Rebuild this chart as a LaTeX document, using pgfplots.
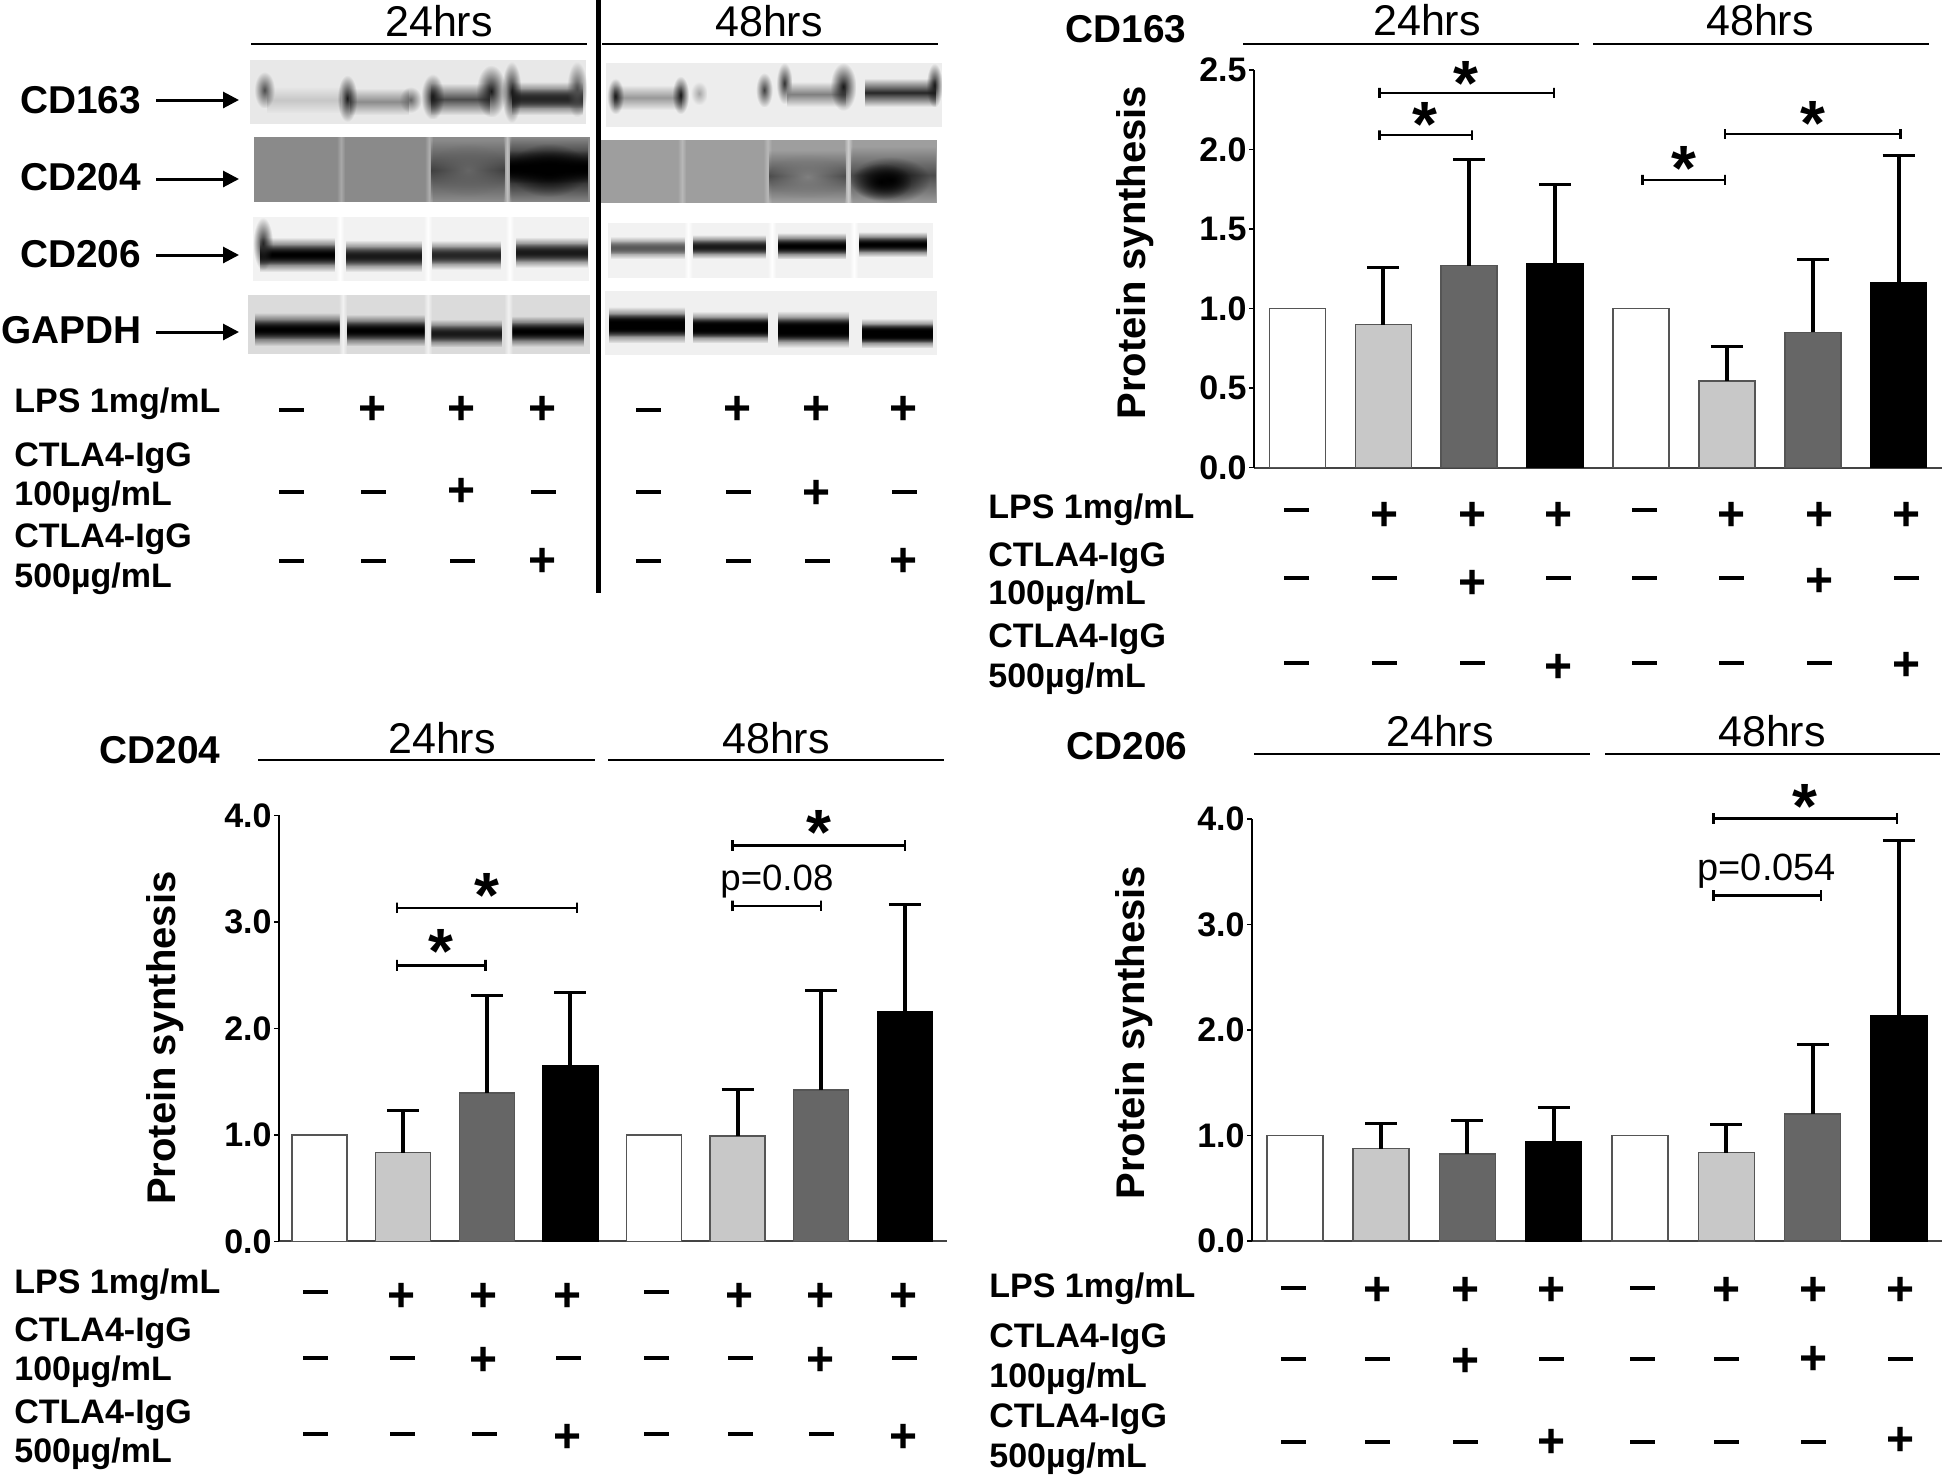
\documentclass[border=0pt]{standalone}
\usepackage{fontspec}
\setmainfont{Liberation Sans}
\usepackage{pgfplots}
\pgfplotsset{compat=1.18}
\usetikzlibrary{fadings,arrows.meta}
\tikzfading[name=vf, top color=transparent!100, bottom color=transparent!100, middle color=transparent!0]
\tikzfading[name=hf, left color=transparent!100, right color=transparent!100, middle color=transparent!0]
\tikzfading[name=rf, inner color=transparent!0, outer color=transparent!100]
\newcommand{\fs}[1]{\fontsize{#1}{#1}\selectfont}
\definecolor{gA}{HTML}{C8C8C8}
\definecolor{gB}{HTML}{666666}
\definecolor{ed}{HTML}{555555}
% blot helpers (coordinates in the scope below)
\newcommand{\vb}[5]{\fill[#5,path fading=vf] (#1,#3) rectangle (#2,#4);}
\newcommand{\rb}[5]{\fill[#5,path fading=rf] (#1,#3) rectangle (#2,#4);}
\newcommand{\bd}[5]{\pgfmathsetmacro\ya{#3-#4}\pgfmathsetmacro\yb{#3+#4}\pgfmathsetmacro\yc{#3-0.6*#4}\pgfmathsetmacro\yd{#3+0.6*#4}%
  \vb{#1}{#2}{\ya}{\yb}{#5}\vb{#1}{#2}{\yc}{\yd}{#5}}
\newcommand{\sep}[4]{\fill[#4,path fading=hf] (#1-7,#2) rectangle (#1+7,#3);}
% table helpers (px coordinates)
\newcommand{\pl}[2]{\node[inner sep=0,anchor=center] at (#1,#2) {\fs{24}\bfseries +};}
\newcommand{\mi}[2]{\fill[black] (#1-12.5,#2-2.4) rectangle (#1+12.5,#2+2.4);}
\newcommand{\lab}[3]{\node[inner sep=0,anchor=base west] at (#1,#2) {\fs{17}\bfseries #3};}
\newcommand{\hr}[3]{\draw[line width=1.25pt,black] (#1,#3) -- (#2,#3);}
\newcommand{\hrs}[3]{\node[inner sep=0,anchor=base] at (#1,#2) {\fs{21.5}#3};}
\newcommand{\bigb}[3]{\node[inner sep=0,anchor=base] at (#1,#2) {\fs{19.4}\bfseries #3};}
% axis helpers
\newcommand{\bracket}[3]{\addplot[mark=none,line width=1.25pt,black,forget plot] coordinates {(#1,#3-\capd) (#1,#3+\capd) (#1,#3) (#2,#3) (#2,#3+\capd) (#2,#3-\capd)};}
\newcommand{\stars}[2]{\node[inner sep=0,anchor=base,yshift=-15.6pt] at (axis cs:#1,#2) {\fs{32}\bfseries *};}
\pgfplotsset{
  panel/.style={
    scale only axis, clip=false,
    ymin=0,
    axis x line*=bottom, axis y line*=left,
    xtick=\empty,
    axis line style={-},
    x axis line style={line width=1pt,color=ed!80!black},
    y axis line style={line width=0.75pt,black},
    tick style={black,line width=0.75pt},
    major tick length=2.5pt,
    tick align=outside,
    ytick pos=left,
    yticklabel style={font=\fs{17}\bfseries, /pgf/number format/assume math mode=true, /pgf/number format/fixed, /pgf/number format/fixed zerofill, /pgf/number format/precision=1, inner sep=1pt},
    ylabel={Protein synthesis},
  },
  barw/.style={ybar, bar shift=0pt, bar width=#1},
  ebars/.style={error bars/.cd, y dir=plus, y explicit,
     error bar style={line width=2pt,black},
     error mark options={rotate=90,line width=1.5pt,mark size=8pt,black}},
}
\begin{document}
\begin{tikzpicture}
\path[use as bounding box] (0,0) rectangle (972pt,-739pt);
% ---------- blots ----------
\begin{scope}[x=0.31pt,y=-0.16667pt]
% CD163 24
\fill[black!9] (403,180) rectangle (945,372);
\vb{430}{550}{260}{340}{black!22}
\vb{565}{660}{265}{345}{black!45}
\vb{695}{790}{250}{345}{black!70}
\bd{825}{940}{295}{50}{black!85}
\rb{410}{443}{215}{325}{black!70}
\rb{544}{576}{225}{365}{black!90}
\rb{644}{680}{260}{338}{black!60}
\rb{679}{716}{222}{358}{black!90}
\rb{768}{816}{195}{352}{black!90}
\rb{809}{841}{185}{368}{black!90}
\rb{914}{947}{185}{352}{black!70}
% CD163 48
\fill[black!7] (978,188) rectangle (1520,380);
\vb{990}{1100}{255}{330}{black!40}
\rb{979}{1006}{235}{342}{black!90}
\rb{1084}{1111}{228}{342}{black!90}
\rb{1114}{1141}{245}{315}{black!35}
\rb{1219}{1246}{218}{322}{black!75}
\rb{1252}{1278}{188}{312}{black!80}
\vb{1270}{1365}{245}{320}{black!50}
\rb{1339}{1381}{188}{332}{black!90}
\vb{1395}{1510}{235}{320}{black!85}
\rb{1494}{1520}{190}{322}{black!90}
% CD204 24
\fill[black!46] (409,410) rectangle (951,606);
\sep{550}{410}{606}{black!34}\sep{692}{410}{606}{black!32}\sep{818}{410}{606}{black!25}
\vb{695}{815}{420}{600}{black!75}
\rb{695}{815}{430}{590}{black!60}
\vb{822}{948}{411}{606}{black}
\rb{822}{948}{430}{590}{black}
\vb{822}{948}{450}{550}{black}
% CD204 48
\fill[black!38] (970,419) rectangle (1511,610);
\sep{1100}{419}{610}{black!28}\sep{1238}{419}{610}{black!28}\sep{1368}{419}{610}{black!20}
\vb{1240}{1365}{450}{605}{black!70}
\rb{1240}{1365}{465}{595}{black!50}
\vb{1372}{1510}{440}{610}{black!70}
\rb{1372}{1500}{470}{610}{black}
\rb{1372}{1470}{490}{600}{black}
% CD206 24
\fill[black!5] (408,652) rectangle (950,842);
\bd{420}{540}{764}{52}{black}
\bd{558}{680}{768}{48}{black!90}
\bd{697}{808}{765}{44}{black!85}
\bd{832}{948}{757}{46}{black!90}
\rb{408}{440}{652}{810}{black!85}
\sep{548}{652}{842}{white}\sep{690}{652}{842}{white}\sep{822}{652}{842}{white}
% CD206 48
\fill[black!5] (980,668) rectangle (1505,833);
\bd{985}{1105}{743}{34}{black!65}
\bd{1118}{1235}{740}{36}{black!90}
\bd{1255}{1365}{738}{40}{black}
\bd{1385}{1495}{733}{38}{black}
\sep{1110}{668}{833}{white}\sep{1245}{668}{833}{white}\sep{1377}{668}{833}{white}
% GAPDH 24
\fill[black!14] (400,886) rectangle (952,1063);
\bd{412}{548}{988}{50}{black}
\bd{560}{685}{991}{48}{black}
\bd{695}{810}{1000}{42}{black!90}
\bd{825}{942}{994}{46}{black}
\sep{553}{886}{1063}{black!5}\sep{690}{886}{1063}{black!5}\sep{820}{886}{1063}{black!5}
% GAPDH 48
\fill[black!6] (975,873) rectangle (1511,1065);
\bd{982}{1105}{975}{55}{black}\bd{982}{1105}{975}{36}{black}
\bd{1118}{1238}{982}{48}{black}\bd{1118}{1238}{982}{32}{black}
\bd{1255}{1370}{988}{55}{black}\bd{1255}{1370}{988}{38}{black}
\bd{1390}{1505}{1000}{45}{black}\bd{1390}{1505}{1000}{30}{black}
\end{scope}
% ---------- text, rules, tables ----------
\begin{scope}[x=0.5pt,y=-0.5pt]
\fill[black] (596,0) rectangle (600.5,593);
% top left
\hrs{439}{36}{24hrs}\hrs{769}{36}{48hrs}
\hr{251}{587}{44}\hr{602}{938}{44}
\foreach \n/\y/\ya/\xx in {CD163/113/100/20,CD204/190/179/20,CD206/267/255/20,GAPDH/343/332/1}{
  \node[inner sep=0,anchor=base west] at (\xx,\y) {\fs{19.4}\bfseries \n};
  \draw[line width=1.5pt,-{Triangle[length=8pt,width=8pt]}] (156,\ya) -- (239,\ya);
}
\lab{14}{412}{LPS 1mg/mL}\lab{14}{466}{CTLA4-IgG}\lab{14}{505}{100µg/mL}\lab{14}{547}{CTLA4-IgG}\lab{14}{587}{500µg/mL}
\mi{291}{410}\pl{373}{410}\pl{462}{410}\pl{543}{410}\mi{648}{410}\pl{738}{410}\pl{817}{410}\pl{904}{410}
\mi{291}{492}\mi{373}{492}\pl{462}{492}\mi{543}{492}\mi{648}{492}\mi{738}{492}\pl{817}{494}\mi{904}{492}
\mi{291}{561}\mi{373}{561}\mi{462}{561}\pl{543}{562}\mi{648}{561}\mi{738}{561}\mi{817}{561}\pl{904}{562}
% top right
\bigb{1126}{42}{CD163}\hrs{1427}{35}{24hrs}\hrs{1760}{35}{48hrs}
\hr{1243}{1579}{44}\hr{1593}{1929}{44}
\lab{988}{518}{LPS 1mg/mL}\lab{988}{566}{CTLA4-IgG}\lab{988}{604}{100µg/mL}\lab{988}{647}{CTLA4-IgG}\lab{988}{687}{500µg/mL}
\mi{1296}{510}\pl{1384}{516}\pl{1472}{516}\pl{1558}{516}\mi{1644}{510}\pl{1731}{516}\pl{1819}{516}\pl{1906}{516}
\mi{1296}{578}\mi{1384}{578}\pl{1472}{584}\mi{1558}{578}\mi{1644}{578}\mi{1731}{578}\pl{1819}{582}\mi{1906}{578}
\mi{1296}{663}\mi{1384}{663}\mi{1472}{663}\pl{1558}{668}\mi{1644}{663}\mi{1731}{663}\mi{1819}{663}\pl{1906}{666}
% bottom left
\bigb{160}{763}{CD204}\hrs{442}{753}{24hrs}\hrs{776}{753}{48hrs}
\hr{258}{595}{760}\hr{608}{944}{760}
\lab{14}{1293}{LPS 1mg/mL}\lab{14}{1341}{CTLA4-IgG}\lab{14}{1380}{100µg/mL}\lab{14}{1423}{CTLA4-IgG}\lab{14}{1462}{500µg/mL}
\mi{315}{1292}\pl{402}{1297}\pl{484}{1297}\pl{568}{1297}\mi{656}{1292}\pl{740}{1297}\pl{821}{1297}\pl{904}{1297}
\mi{315}{1358}\mi{402}{1358}\pl{484}{1361}\mi{568}{1358}\mi{656}{1358}\mi{740}{1358}\pl{821}{1361}\mi{904}{1358}
\mi{315}{1434}\mi{402}{1434}\mi{484}{1434}\pl{568}{1438}\mi{656}{1434}\mi{740}{1434}\mi{821}{1434}\pl{904}{1438}
% bottom right
\bigb{1127}{759}{CD206}\hrs{1440}{746}{24hrs}\hrs{1772}{746}{48hrs}
\hr{1254}{1590}{754}\hr{1605}{1940}{754}
\lab{989}{1297}{LPS 1mg/mL}\lab{989}{1347}{CTLA4-IgG}\lab{989}{1387}{100µg/mL}\lab{989}{1427}{CTLA4-IgG}\lab{989}{1467}{500µg/mL}
\mi{1293}{1288}\pl{1377}{1291}\pl{1465}{1291}\pl{1551}{1291}\mi{1642}{1288}\pl{1726}{1291}\pl{1813}{1291}\pl{1900}{1291}
\mi{1293}{1359}\mi{1377}{1359}\pl{1465}{1362}\mi{1551}{1359}\mi{1642}{1359}\mi{1726}{1359}\pl{1813}{1360}\mi{1900}{1359}
\mi{1293}{1442}\mi{1377}{1442}\mi{1465}{1442}\pl{1551}{1443}\mi{1642}{1442}\mi{1726}{1442}\mi{1813}{1442}\pl{1900}{1441}
\end{scope}
% ---------- CD163 ----------
\def\capd{0.031}
\begin{axis}[panel, at={(627pt,-233.85pt)}, anchor=south west, width=344pt, height=198.85pt,
  xmin=-0.505, xmax=7.504, ymax=2.5, ytick={0,0.5,1,1.5,2,2.5},
  every axis y label/.style={at={(axis description cs:-0.173,0.541)},rotate=90,anchor=center,font=\fs{20}\bfseries}]
\addplot[barw=28pt,fill=white,draw=ed,line width=0.75pt] coordinates {(0,1.0) (4,1.0)};
\addplot[barw=28pt,fill=gA,draw=ed,line width=0.75pt,ebars] coordinates {(1,0.90) +- (0,0.36) (5,0.545) +- (0,0.215)};
\addplot[barw=28pt,fill=gB,draw=ed,line width=0.75pt,ebars] coordinates {(2,1.27) +- (0,0.67) (6,0.85) +- (0,0.46)};
\addplot[barw=28pt,fill=black,draw=black,line width=0.75pt,ebars] coordinates {(3,1.28) +- (0,0.50) (7,1.165) +- (0,0.80)};
\bracket{0.955}{2.99}{2.356}\bracket{0.955}{2.03}{2.09}\bracket{4.02}{4.98}{1.809}\bracket{4.98}{7.02}{2.098}
\stars{1.964}{2.476}\stars{1.486}{2.218}\stars{4.50}{1.939}\stars{6.0}{2.224}
\end{axis}
% ---------- CD204 ----------
\def\capd{0.05}
\begin{axis}[panel, at={(139.5pt,-620.7pt)}, anchor=south west, width=334pt, height=213pt,
  xmin=-0.486, xmax=7.505, ymax=4, ytick={0,1,2,3,4},
  every axis y label/.style={at={(axis description cs:-0.171,0.477)},rotate=90,anchor=center,font=\fs{20}\bfseries}]
\addplot[barw=27.5pt,fill=white,draw=ed,line width=0.75pt] coordinates {(0,1.0) (4,1.0)};
\addplot[barw=27.5pt,fill=gA,draw=ed,line width=0.75pt,ebars] coordinates {(1,0.833) +- (0,0.393) (5,0.99) +- (0,0.434)};
\addplot[barw=27.5pt,fill=gB,draw=ed,line width=0.75pt,ebars] coordinates {(2,1.393) +- (0,0.917) (6,1.42) +- (0,0.94)};
\addplot[barw=27.5pt,fill=black,draw=black,line width=0.75pt,ebars] coordinates {(3,1.65) +- (0,0.69) (7,2.16) +- (0,1.00)};
\bracket{0.926}{3.08}{3.132}\bracket{0.926}{1.987}{2.593}\bracket{4.94}{7.0}{3.718}\bracket{4.94}{6.0}{3.149}
\stars{2.0}{3.337}\stars{1.45}{2.807}\stars{5.97}{3.923}
\node[inner sep=0,anchor=base] at (axis cs:5.47,3.296) {\fs{18.3}p=0.08};
\end{axis}
% ---------- CD206 ----------
\def\capd{0.05}
\begin{axis}[panel, at={(626pt,-620.5pt)}, anchor=south west, width=345pt, height=211pt,
  xmin=-0.496, xmax=7.5, ymax=4, ytick={0,1,2,3,4},
  every axis y label/.style={at={(axis description cs:-0.171,0.494)},rotate=90,anchor=center,font=\fs{20}\bfseries}]
\addplot[barw=28pt,fill=white,draw=ed,line width=0.75pt] coordinates {(0,1.0) (4,1.0)};
\addplot[barw=28pt,fill=gA,draw=ed,line width=0.75pt,ebars] coordinates {(1,0.875) +- (0,0.238) (5,0.837) +- (0,0.272)};
\addplot[barw=28pt,fill=gB,draw=ed,line width=0.75pt,ebars] coordinates {(2,0.823) +- (0,0.317) (6,1.202) +- (0,0.662)};
\addplot[barw=28pt,fill=black,draw=black,line width=0.75pt,ebars] coordinates {(3,0.944) +- (0,0.324) (7,2.133) +- (0,1.667)};
\bracket{4.85}{6.98}{4.007}\bracket{4.85}{6.10}{3.277}
\stars{5.91}{4.207}
\node[inner sep=0,anchor=base] at (axis cs:5.47,3.42) {\fs{19}p=0.054};
\end{axis}
\end{tikzpicture}
\end{document}
